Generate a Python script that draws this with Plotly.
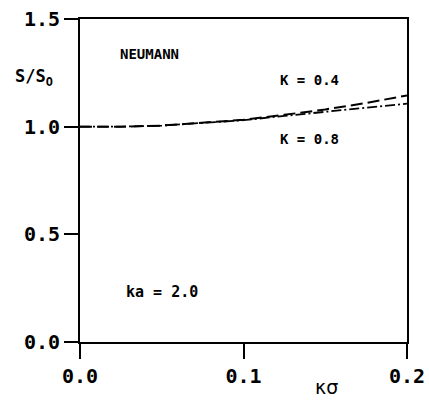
import plotly.graph_objects as go

x_vals = [0.0, 0.025, 0.05, 0.075, 0.1, 0.125, 0.15, 0.175, 0.2]
s_k04 = [1.0, 1.0, 1.005, 1.017, 1.032, 1.055, 1.08, 1.11, 1.145]
s_k08 = [1.0, 1.0, 1.005, 1.017, 1.03, 1.05, 1.068, 1.087, 1.107]
x_ticks = [0.0, 0.1, 0.2]
x_ticklabels = ["0.0", "0.1", "0.2"]
y_ticks = [0.0, 0.5, 1.0, 1.5]
y_ticklabels = ["0.0", "0.5", "1.0", "1.5"]

FONT = "DejaVu Sans Mono"

fig = go.Figure()
fig.add_trace(go.Scatter(x=x_vals, y=s_k04, mode="lines",
                         line=dict(color="black", width=2, dash="12px,5px"),
                         showlegend=False, hoverinfo="skip"))
fig.add_trace(go.Scatter(x=x_vals, y=s_k08, mode="lines",
                         line=dict(color="black", width=1.8, dash="10px,3px,2px,3px"),
                         showlegend=False, hoverinfo="skip"))

annots = [
    dict(x=0.0232, y=1.337, text="NEUMANN", size=14),
    dict(x=0.121, y=1.218, text="K = 0.4", size=14),
    dict(x=0.121, y=0.943, text="K = 0.8", size=14),
    dict(x=0.027, y=0.232, text="ka = 2.0", size=15),
]
for a in annots:
    fig.add_annotation(x=a["x"], y=a["y"], xref="x", yref="y", text=a["text"],
                       showarrow=False, xanchor="left", yanchor="middle",
                       font=dict(family=FONT, size=a["size"], color="black", weight="bold"))

fig.add_annotation(xref="x domain", yref="y domain", x=-0.205, y=0.82,
                   text="S/S<sub>O</sub>", showarrow=False,
                   xanchor="left", yanchor="middle",
                   font=dict(family=FONT, size=17, color="black", weight="bold"))
fig.add_annotation(xref="x domain", yref="y domain", x=0.755, y=-0.14,
                   text="κσ", showarrow=False, xanchor="center", yanchor="middle",
                   font=dict(family="DejaVu Sans", size=19, color="black"))

fig.update_xaxes(range=[0, 0.2], tickvals=x_ticks, ticktext=x_ticklabels,
                 ticks="outside", ticklen=15, tickwidth=2, tickcolor="black",
                 showline=True, linewidth=2, linecolor="black", mirror=True,
                 showgrid=False, zeroline=False, automargin=False,
                 tickfont=dict(family=FONT, size=20, color="black", weight="bold"))
fig.update_yaxes(range=[0, 1.5], tickvals=y_ticks, ticktext=y_ticklabels,
                 ticks="outside", ticklen=14, tickwidth=2, tickcolor="black",
                 showline=True, linewidth=2, linecolor="black", mirror=True,
                 showgrid=False, zeroline=False, automargin=False,
                 tickfont=dict(family=FONT, size=20, color="black", weight="bold"))

fig.update_layout(width=429, height=400, margin=dict(l=80, r=22, t=19, b=58),
                  plot_bgcolor="white", paper_bgcolor="white")

fig.write_html("out.html")
